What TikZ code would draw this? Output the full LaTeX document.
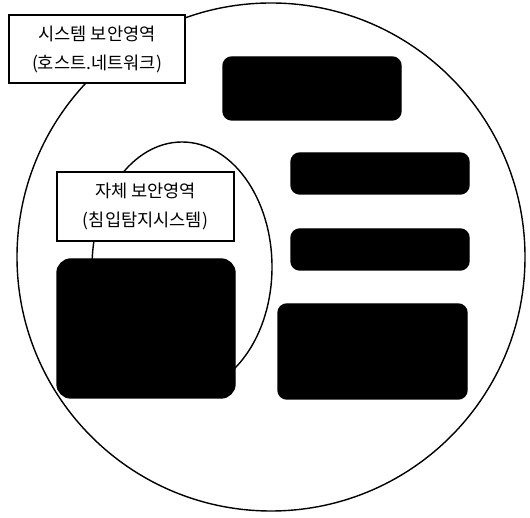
\documentclass[tikz,border=0pt]{standalone}
\usepackage{fontspec}
\newfontfamily\hangul{Noto Sans CJK KR}
\usetikzlibrary{positioning, shapes.geometric}

\begin{document}
\begin{tikzpicture}[line width=0.8pt,
				caja/.style={draw, fill=white, rectangle, align=center, inner sep=0pt,
					font=\hangul\fontsize{10}{16.5}\selectfont},
				bloque/.style={draw, fill=black, rectangle, rounded corners=5pt, inner sep=0pt}]
				\useasboundingbox (0,0) rectangle (10.6,10.34);
				% zonas
				\node[circle, draw, minimum size=10.16cm, inner sep=0pt] (sistema) at (5.42,5.2) {};
				\node[ellipse, draw, minimum width=3.6cm, minimum height=5cm, inner sep=0pt] (propia) at (3.64,5.0) {};
				% bloques
				\node[bloque, minimum width=3.56cm, minimum height=1.26cm] (b1) at (6.24,8.57) {};
				\node[bloque, minimum width=3.56cm, minimum height=0.82cm] (b2) at (7.6,6.87) {};
				\node[bloque, minimum width=3.56cm, minimum height=0.82cm] (b3) at (7.6,5.35) {};
				\node[bloque, minimum width=3.78cm, minimum height=1.9cm] (b4) at (7.45,3.31) {};
				\node[bloque, rounded corners=8pt, minimum width=3.56cm, minimum height=2.78cm] (b5) at (2.92,3.77) {};
				% etiquetas
				\node[caja, minimum width=3.52cm, minimum height=1.36cm] (etqsistema) at (1.94,9.36) {시스템 보안영역\\(호스트.네트워크)};
				\node[caja, minimum width=3.54cm, minimum height=1.38cm] (etqpropia) at (2.91,6.21) {자체 보안영역\\(침입탐지시스템)};
			\end{tikzpicture}
\end{document}
